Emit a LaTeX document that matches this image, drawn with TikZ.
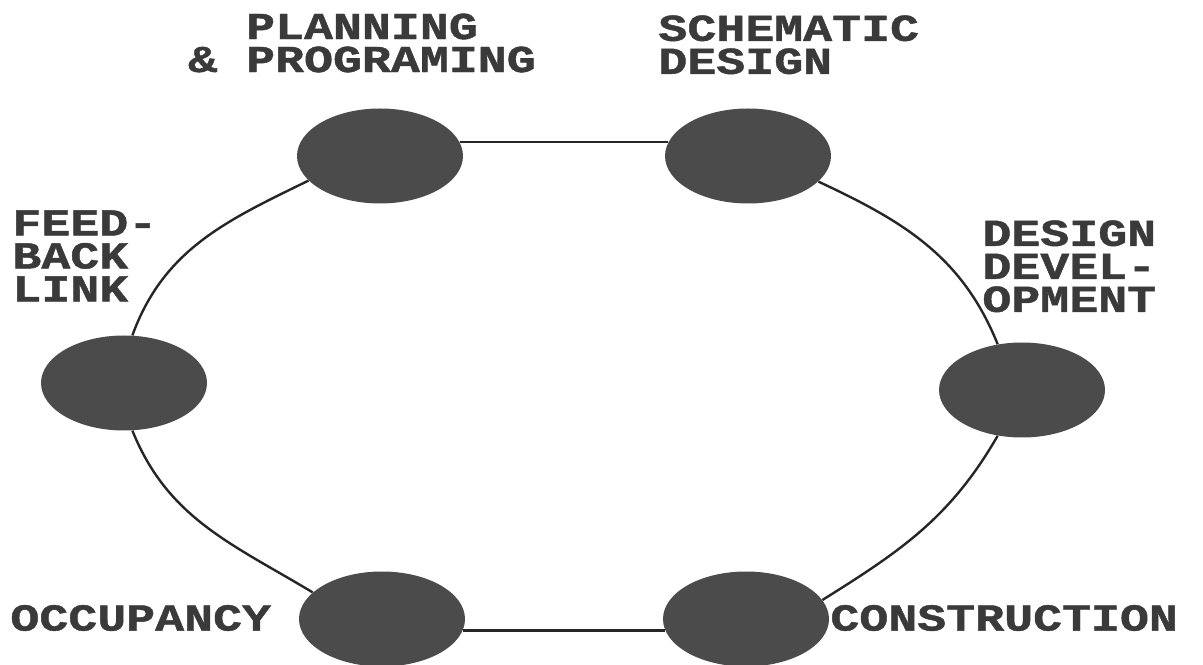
\documentclass[tikz,border=0pt]{standalone}
\usepackage{fontspec}
\newfontfamily\pixfont{Liberation Mono}[FakeStretch=1.27,BoldFeatures={FakeBold=1.2}]
\usetikzlibrary{shapes.geometric}
\definecolor{phasefill}{HTML}{4B4B4B}
\definecolor{labelink}{HTML}{3A3A3A}
\definecolor{ringline}{HTML}{262626}
\tikzset{
  phase/.style={
    ellipse,
    fill=phasefill,
    minimum width=83pt,
    minimum height=47.5pt,
    inner sep=0pt
  },
  tag/.style={
    text=labelink,
    inner sep=0pt,
    font={\pixfont\bfseries\fontsize{19}{16.5}\selectfont}
  },
  ring/.style={draw=ringline,line width=1.2pt}
}

\begin{document}
\begin{tikzpicture}[x=0.5pt,y=0.5pt]
  \useasboundingbox (0,0) rectangle (1203,664);

  \node[phase] (plan) at (380,508) {};
  \node[phase] (schem) at (748,508) {};
  \node[phase] (devel) at (1022,274) {};
  \node[phase] (constr) at (746,45) {};
  \node[phase] (occup) at (382,45) {};
  \node[phase] (feedb) at (124,281) {};

  \node[tag, align=center] (plantag) at (362,621) {PLANNING\\\& PROGRAMING};
  \node[tag, align=left, anchor=north west] (schemtag) at (658,649) {SCHEMATIC\\DESIGN};
  \node[tag, align=left, anchor=north west] (develtag) at (982,444) {DESIGN\\DEVEL-\\OPMENT};
  \node[tag, anchor=west] (constrtag) at (830,46) {CONSTRUCTION};
  \node[tag, anchor=west] (occuptag) at (10,46) {OCCUPANCY};
  \node[tag, align=left, anchor=north west] (feedbtag) at (12,454) {FEED-\\BACK\\LINK};

  \draw[ring] (plan.10) -- (schem.170);
  \draw[ring] (schem.-20) to[out=-25,in=112] (devel.118);
  \draw[ring] (devel.242) to[out=240,in=32] (constr.14);
  \draw[ring] (constr.188) -- (occup.-8);
  \draw[ring] (occup.159) to[out=149,in=-68] (feedb.-80);
  \draw[ring] (feedb.80) to[out=70,in=206] (plan.199);
\end{tikzpicture}
\end{document}
